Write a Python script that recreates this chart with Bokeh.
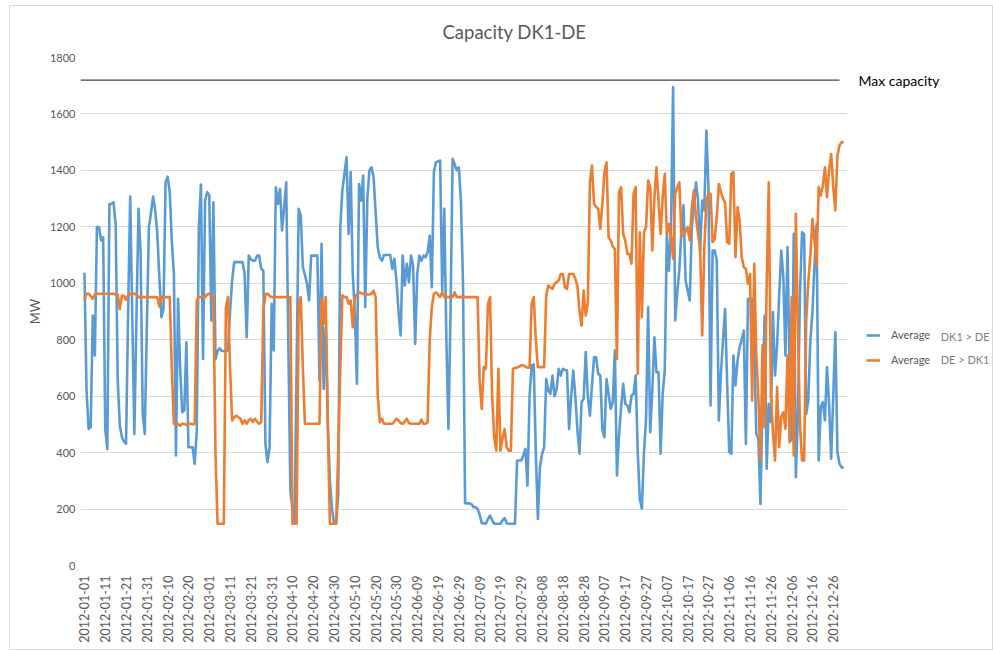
import math
import pandas as pd
from bokeh.plotting import figure
from bokeh.layouts import row
from bokeh.models import (Range1d, FixedTicker, Label, Legend, LegendItem)
from bokeh.embed import file_html
from bokeh.resources import INLINE

# ---------------- data ----------------
start_date = "2012-01-01"
n_days = 366

dk1_to_de = [
    1037, 620, 484, 490, 886, 744, 1199, 1199, 1152, 1163,
    484, 413, 1281, 1281, 1287, 1210, 655, 496, 455, 440,
    431, 900, 1307, 880, 466, 880, 1264, 1104, 537, 466,
    850, 1199, 1250, 1307, 1260, 1180, 1022, 880, 909, 1358,
    1378, 1323, 1150, 1033, 390, 945, 700, 543, 549, 791,
    419, 419, 419, 360, 478, 1200, 1350, 732, 1293, 1323,
    1311, 868, 1287, 730, 760, 770, 760, 760, 760, 763,
    900, 1010, 1075, 1075, 1075, 1075, 1075, 1033, 809, 1098,
    1085, 1080, 1080, 1098, 1098, 1051, 1045, 431, 366, 419,
    927, 762, 1340, 1281, 1335, 1187, 1270, 1358, 800, 266,
    200, 150, 700, 1264, 1240, 1057, 1030, 998, 939, 1098,
    1098, 1098, 1098, 655, 1140, 626, 844, 500, 300, 200,
    150, 150, 250, 1200, 1330, 1388, 1447, 1175, 1394, 1033,
    892, 644, 1352, 1293, 1382, 915, 1300, 1400, 1411, 1376,
    1250, 1128, 1092, 1080, 1100, 1100, 1100, 1100, 1051, 1087,
    1010, 900, 815, 1098, 992, 1069, 1004, 1098, 1063, 785,
    1033, 1098, 1080, 1098, 1092, 1110, 1169, 986, 1394, 1429,
    1432, 1435, 974, 1264, 800, 484, 900, 1441, 1420, 1400,
    1411, 1293, 1000, 221, 220, 220, 218, 207, 207, 201,
    180, 150, 150, 148, 165, 177, 160, 148, 148, 148,
    148, 160, 168, 150, 148, 148, 148, 148, 372, 372,
    372, 390, 413, 283, 600, 709, 712, 400, 165, 350,
    396, 419, 661, 620, 608, 673, 600, 626, 697, 673,
    697, 693, 691, 484, 600, 691, 600, 480, 396, 579,
    590, 756, 600, 531, 638, 738, 738, 679, 673, 480,
    455, 661, 608, 555, 579, 762, 319, 461, 560, 644,
    573, 567, 543, 602, 608, 673, 400, 236, 201, 400,
    520, 915, 472, 620, 809, 685, 685, 396, 608, 691,
    1175, 1045, 1199, 1695, 868, 963, 1050, 1187, 1276, 1010,
    974, 939, 1199, 1270, 1358, 1293, 1116, 1293, 1258, 1541,
    1341, 567, 1116, 1116, 1080, 514, 679, 800, 909, 644,
    402, 396, 744, 638, 726, 774, 800, 833, 431, 945,
    945, 945, 780, 466, 449, 218, 585, 886, 343, 573,
    508, 898, 673, 780, 957, 1116, 1022, 744, 1128, 700,
    443, 1175, 313, 531, 963, 1181, 1175, 537, 585, 800,
    898, 1069, 1210, 372, 561, 579, 514, 703, 573, 378,
    600, 827, 402, 360, 348, 345,
]

de_to_dk1 = [
    939, 963, 963, 955, 945, 960, 963, 963, 963, 963,
    963, 963, 963, 963, 963, 960, 960, 909, 956, 956,
    941, 956, 963, 963, 963, 960, 951, 951, 951, 951,
    951, 951, 951, 951, 951, 951, 918, 951, 951, 951,
    951, 951, 700, 502, 502, 502, 495, 502, 502, 498,
    502, 502, 500, 502, 939, 951, 951, 951, 951, 960,
    963, 955, 951, 396, 148, 148, 148, 148, 915, 951,
    700, 514, 525, 531, 525, 520, 502, 514, 502, 515,
    520, 508, 520, 510, 502, 508, 903, 960, 963, 955,
    951, 951, 951, 951, 951, 951, 951, 951, 951, 951,
    148, 148, 148, 921, 951, 700, 502, 502, 502, 502,
    502, 502, 502, 502, 945, 856, 951, 500, 148, 148,
    148, 148, 400, 700, 957, 951, 951, 927, 939, 844,
    951, 960, 968, 965, 963, 963, 960, 960, 963, 974,
    951, 600, 508, 520, 502, 502, 502, 502, 502, 510,
    520, 514, 505, 502, 510, 520, 505, 502, 502, 502,
    502, 502, 517, 502, 502, 508, 800, 915, 963, 968,
    960, 951, 968, 951, 951, 951, 951, 951, 968, 951,
    951, 951, 951, 951, 951, 951, 951, 951, 951, 951,
    655, 555, 703, 697, 927, 951, 600, 455, 407, 697,
    407, 450, 484, 419, 407, 407, 697, 700, 701, 705,
    709, 709, 705, 701, 701, 929, 951, 800, 703, 703,
    703, 703, 957, 992, 985, 980, 998, 1004, 1010, 1033,
    1033, 986, 980, 1033, 1033, 1033, 1016, 990, 900, 850,
    974, 886, 927, 1358, 1417, 1281, 1270, 1264, 1193, 1281,
    1394, 1429, 1163, 1152, 1130, 1122, 732, 1323, 1341, 1175,
    1152, 1104, 1104, 1069, 1317, 1341, 679, 1181, 880, 1181,
    1199, 1364, 1341, 1116, 1299, 1411, 1293, 1175, 1305, 1388,
    1175, 1210, 1163, 1087, 1317, 1340, 1358, 1169, 1169, 1187,
    1199, 1152, 1270, 1329, 1234, 1175, 1122, 815, 1122, 1293,
    1317, 1317, 1146, 1157, 1234, 1352, 1323, 1300, 1287, 1146,
    1140, 1388, 1394, 1092, 1270, 1222, 1092, 1057, 1051, 998,
    1033, 585, 1069, 750, 596, 372, 780, 490, 1000, 1358,
    608, 472, 372, 632, 419, 526, 543, 484, 744, 437,
    951, 390, 1246, 844, 500, 372, 372, 868, 1004, 1100,
    1228, 1152, 1063, 1341, 1311, 1346, 1411, 1305, 1400, 1458,
    1341, 1258, 1452, 1488, 1500, 1500,
]

max_capacity = 1720
y_ticks = [0, 200, 400, 600, 800, 1000, 1200, 1400, 1600, 1800]
tick_every = 10

series_names = ["DK1 > DE", "DE > DK1"]
legend_word = "Average"
title_text = "Capacity DK1-DE"
y_label = "MW"
max_label = "Max capacity"

# ---------------- derived ----------------
dates = pd.date_range(start_date, periods=n_days, freq="D")
days = list(range(n_days))
tick_pos = days[::tick_every]
tick_labels = {i: dates[i].strftime("%Y-%m-%d") for i in tick_pos}

FONT = "Lato"
BLUE = "#5B9BD5"
ORANGE = "#ED7D31"
GRAY = "#595959"
LW = 2.6

TOTAL_H = 643
TOP = 51
BOTTOM = 84

x0, x1 = -1.9, 366.85
p = figure(width=837, height=TOTAL_H, output_backend="svg", toolbar_location=None,
           x_range=Range1d(x0, x1), y_range=Range1d(0, 1800),
           min_border_left=70, min_border_right=0, min_border_top=TOP,
           min_border_bottom=BOTTOM)
p.outline_line_color = None
p.border_fill_color = "white"

p.title.text = title_text
p.title.align = "left"
p.title.offset = 362
p.title.vertical_align = "top"
p.title.standoff = 26
p.title.text_font = FONT
p.title.text_font_size = "18.5px"
p.title.text_font_style = "normal"
p.title.text_color = GRAY

# grid
p.xgrid.visible = False
p.ygrid.grid_line_color = "#d9d9d9"
p.ygrid.grid_line_width = 1
p.ygrid.ticker = FixedTicker(ticks=y_ticks)

# axes
xa = p.xaxis[0]
xa.ticker = FixedTicker(ticks=tick_pos)
xa.major_label_overrides = tick_labels
xa.major_label_orientation = math.pi / 2
xa.axis_line_color = None
xa.major_tick_line_color = None
xa.minor_tick_line_color = None
xa.major_tick_out = 0
xa.minor_tick_out = 0
xa.major_label_text_font = FONT
xa.major_label_text_font_size = "12.5px"
xa.major_label_text_color = GRAY
xa.major_label_standoff = 10

ya = p.yaxis[0]
ya.ticker = FixedTicker(ticks=y_ticks)
ya.axis_line_color = None
ya.major_tick_line_color = None
ya.minor_tick_line_color = None
ya.major_tick_out = 0
ya.minor_tick_out = 0
ya.major_label_text_font = FONT
ya.major_label_text_font_size = "11px"
ya.major_label_text_color = GRAY
ya.major_label_standoff = 5
ya.axis_label = y_label
ya.axis_label_text_font = FONT
ya.axis_label_text_font_size = "13px"
ya.axis_label_text_font_style = "normal"
ya.axis_label_text_color = GRAY
ya.axis_label_standoff = 4

# max capacity line
p.line([x0, 363], [max_capacity, max_capacity], line_color="#404040", line_width=1.3)

# series
p.line(days, dk1_to_de, line_color=BLUE, line_width=LW, line_join="round")
p.line(days, de_to_dk1, line_color=ORANGE, line_width=LW, line_join="round")

# ---------------- right-hand side panel (labels + legend) ----------------
p2 = figure(width=145, height=TOTAL_H, output_backend="svg", toolbar_location=None,
            x_range=Range1d(0, 145), y_range=Range1d(0, 1800),
            min_border_left=0, min_border_right=0, min_border_top=TOP,
            min_border_bottom=BOTTOM)
p2.outline_line_color = None
p2.axis.visible = False
p2.grid.visible = False
p2.border_fill_color = "white"

nan = float("nan")
lb = p2.line([nan], [nan], line_color=BLUE, line_width=LW)
lo = p2.line([nan], [nan], line_color=ORANGE, line_width=LW)
legend = Legend(items=[LegendItem(label=legend_word, renderers=[lb]),
                       LegendItem(label=legend_word, renderers=[lo])],
                location=(19, 199), orientation="vertical",
                padding=0, margin=0, spacing=12, glyph_width=14, glyph_height=12,
                label_height=12, label_standoff=11,
                label_text_font=FONT, label_text_font_size="11px",
                label_text_color=GRAY, border_line_alpha=0,
                background_fill_alpha=0)
p2.add_layout(legend, "center")

p2.add_layout(Label(x=11, y=max_capacity, text=max_label, text_align="left",
                    text_baseline="middle", text_font=FONT,
                    text_font_size="14px", text_color="#000000"))
p2.add_layout(Label(x=142, y=811, text=series_names[0], text_align="right",
                    text_baseline="middle", text_font=FONT,
                    text_font_size="11px", text_color="#7f7f7f"))
p2.add_layout(Label(x=142, y=730, text=series_names[1], text_align="right",
                    text_baseline="middle", text_font=FONT,
                    text_font_size="11px", text_color="#7f7f7f"))

layout = row(p, p2, spacing=0,
             styles={"border": "1px solid #d9d9d9", "margin-left": "9px",
                     "margin-top": "5px"})

open("out.html", "w").write(file_html(layout, INLINE))
